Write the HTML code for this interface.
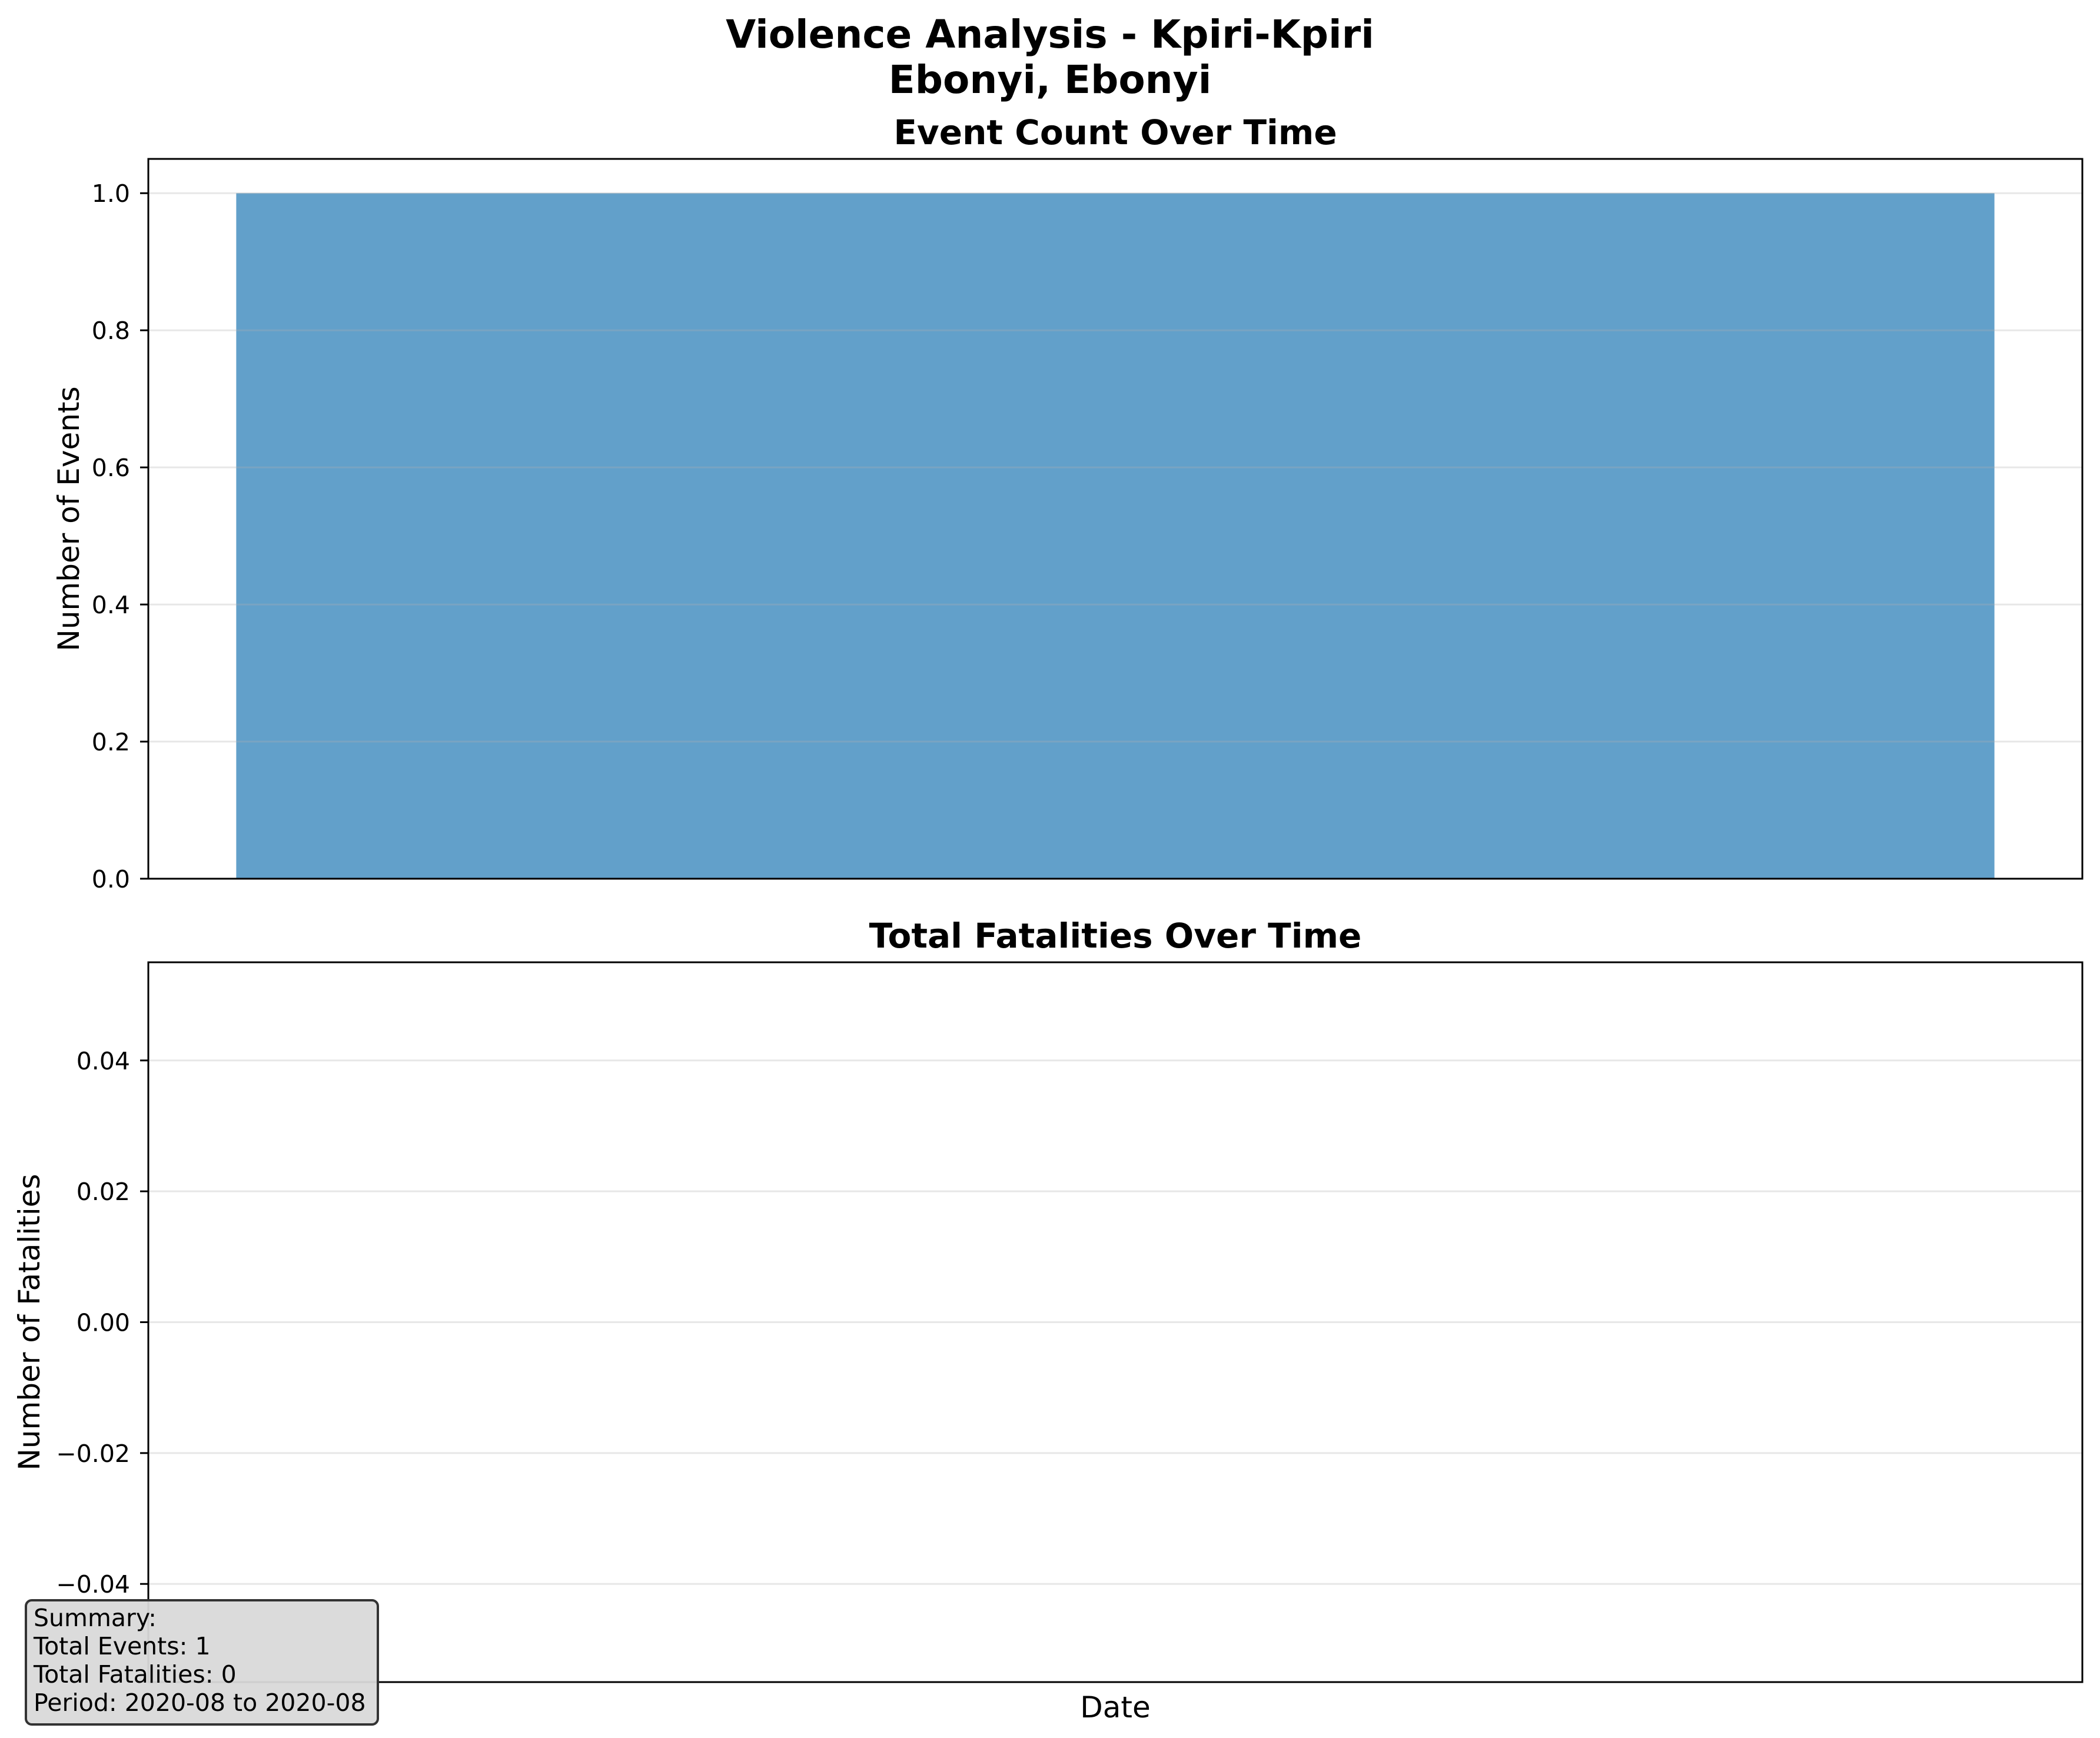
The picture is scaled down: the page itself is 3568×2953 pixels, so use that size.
<!DOCTYPE html>
<html><head><meta charset="utf-8"><style>
html,body{margin:0;padding:0;background:#fff;}
svg{display:block;font-family:"DejaVu Sans","Liberation Sans",sans-serif;}
</style></head><body>
<svg id="fig" width="3568" height="2953" viewBox="0 0 3568 2953" xmlns="http://www.w3.org/2000/svg">
<rect width="3568" height="2953" fill="#fff"/>
<text x="1784" y="81" text-anchor="middle" font-size="66" font-weight="bold">Violence Analysis - Kpiri-Kpiri</text>
<text x="1784" y="158" text-anchor="middle" font-size="66" font-weight="bold">Ebonyi, Ebonyi</text>
<g id="top"></g>
<g id="bot"></g>
<g>
<rect x="44" y="2719" width="598" height="211" rx="10" fill="#d9d9d9" fill-opacity="0.95" stroke="#333" stroke-width="4"/>
<text font-size="41">
<tspan x="57" y="2763">Summary:</tspan>
<tspan x="57" y="2811">Total Events: 1</tspan>
<tspan x="57" y="2859">Total Fatalities: 0</tspan>
<tspan x="57" y="2907">Period: 2020-08 to 2020-08</tspan>
</text>
</g>
</svg>
<script>
const categories = ["2020-08"];
const eventCounts = [1];
const fatalities = [0];
const eventTicks = [0.0, 0.2, 0.4, 0.6, 0.8, 1.0];
const eventTickLabels = ["0.0", "0.2", "0.4", "0.6", "0.8", "1.0"];
const fatalTicks = [-0.04, -0.02, 0.0, 0.02, 0.04];
const fatalTickLabels = ["\u22120.04", "\u22120.02", "0.00", "0.02", "0.04"];

const NS = "http://www.w3.org/2000/svg";
function mk(parent, tag, attrs, text) {
  const e = document.createElementNS(NS, tag);
  for (const k in attrs) e.setAttribute(k, attrs[k]);
  if (text !== undefined) e.textContent = text;
  parent.appendChild(e);
  return e;
}
function drawPanel(g, box, vals, yMin, yMax, ticks, labels, title, ylabel, ylabelX, xlabel) {
  const n = categories.length;
  const xMin = -0.55, xMax = n - 1 + 0.55;
  const xs = v => box.x0 + (v - xMin) / (xMax - xMin) * (box.x1 - box.x0);
  const ys = v => box.y1 - (v - yMin) / (yMax - yMin) * (box.y1 - box.y0);
  vals.forEach((v, i) => {
    const y0 = ys(Math.max(0, v)), y1 = ys(Math.min(0, v));
    const r = mk(g, "rect", {x: xs(i - 0.5), y: y0, width: xs(i + 0.5) - xs(i - 0.5), height: Math.max(0, y1 - y0), fill: "#1f77b4", "fill-opacity": 0.7});
    
    
  });
  ticks.forEach((t, i) => {
    const y = ys(t);
    const gl = mk(g, "line", {x1: box.x0, x2: box.x1, y1: y, y2: y, stroke: "#b0b0b0", "stroke-opacity": 0.3, "stroke-width": 3});
    
    
    const tk = mk(g, "line", {x1: box.x0 - 14, x2: box.x0, y1: y, y2: y, stroke: "#000", "stroke-width": 3});
    
    
    const tl = mk(g, "text", {x: box.x0 - 31, y: y + 15, "text-anchor": "end", "font-size": 41}, labels[i]);
    
    
  });
  const fr = mk(g, "rect", {x: box.x0, y: box.y0, width: box.x1 - box.x0, height: box.y1 - box.y0, fill: "none", stroke: "#000", "stroke-width": 3});
  
  
  const tt = mk(g, "text", {x: (box.x0 + box.x1) / 2, y: box.y0 - 25, "text-anchor": "middle", "font-size": 58, "font-weight": "bold"}, title);
  
  
  const cy = (box.y0 + box.y1) / 2;
  const yl = mk(g, "text", {x: ylabelX, y: cy, "text-anchor": "middle", "font-size": 50, transform: "rotate(-90 " + ylabelX + " " + cy + ")"}, ylabel);
  
  
  if (xlabel) {
    const xl = mk(g, "text", {x: (box.x0 + box.x1) / 2, y: box.y1 + 60, "text-anchor": "middle", "font-size": 50}, xlabel);
    
    
  }
}
drawPanel(document.getElementById("top"), {x0: 252, x1: 3538, y0: 270, y1: 1493}, eventCounts, 0, 1.05, eventTicks, eventTickLabels, "Event Count Over Time", "Number of Events", 134, null);
drawPanel(document.getElementById("bot"), {x0: 252, x1: 3538, y0: 1635, y1: 2858}, fatalities, -0.055, 0.055, fatalTicks, fatalTickLabels, "Total Fatalities Over Time", "Number of Fatalities", 67, "Date");
</script>
</body></html>
